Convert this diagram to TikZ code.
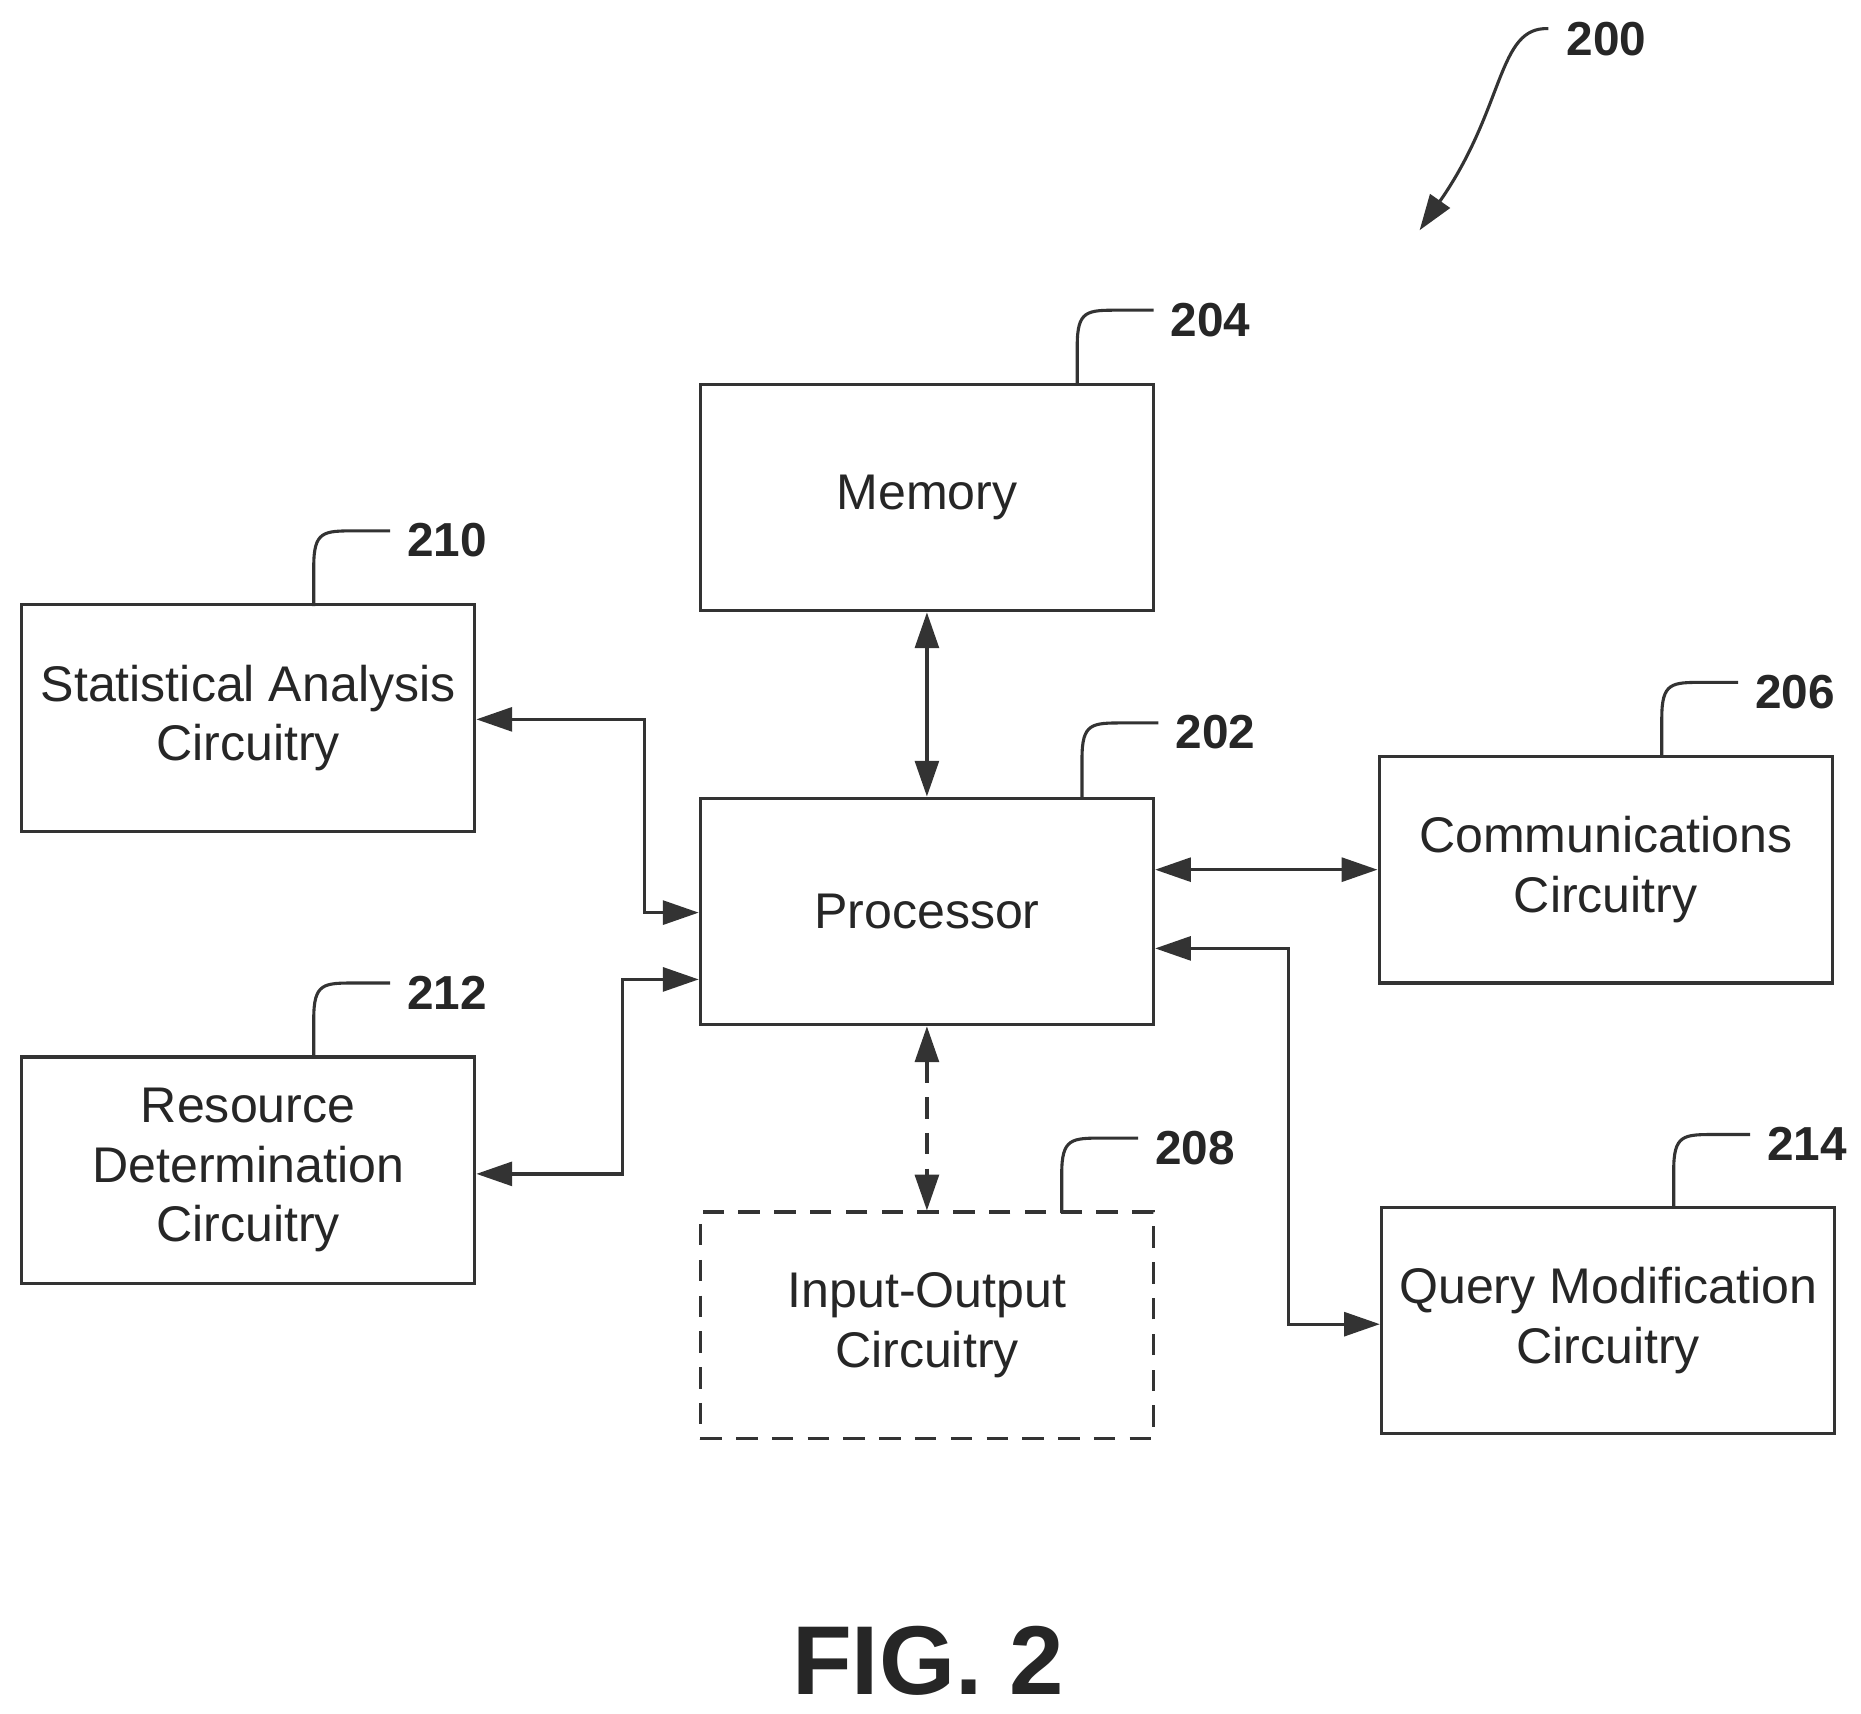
\documentclass[tikz,border=0pt]{standalone}
\usepackage{fontspec}
\setmainfont{Liberation Sans}
\usetikzlibrary{arrows.meta}
\begin{document}
\begin{tikzpicture}[x=0.5pt,y=-0.5pt,
 box/.style={draw=black!80,line width=1.3pt,minimum width=190pt,minimum height=95pt,align=center,font=\fontsize{21}{25}\selectfont,text=black!85},
 con/.style={draw=black!80,line width=1.4pt},
 tip/.style={-{Triangle[length=15pt,width=10pt]}},
 dtip/.style={{Triangle[length=15pt,width=10pt]}-{Triangle[length=15pt,width=10pt]}},
 lead/.style={draw=black!80,line width=1.3pt},
 lab/.style={font=\fontsize{20}{22}\selectfont\bfseries,text=black!85,anchor=west,inner sep=0pt}]
\useasboundingbox (0,0) rectangle (1560,1436);
\node[box] (mem) at (777,417) {Memory};
\node[box] (proc) at (777,764) {Processor};
\node[box] (stat) at (208,602) {Statistical Analysis\\Circuitry};
\node[box] (res) at (208,981) {Resource\\Determination\\Circuitry};
\node[box] (comm) at (1346,729) {Communications\\Circuitry};
\node[box] (query) at (1348,1107) {Query Modification\\Circuitry};
\node[box,dash pattern=on 9pt off 6pt] (io) at (777,1111) {Input-Output\\Circuitry};
\draw[con,dtip] (mem.south) -- (proc.north);
\draw[con,dtip] (stat.east |- 0,603) -- (540,603) -- (540,765) -- (proc.west |- 0,765);
\draw[con,dtip] (res.east |- 0,984) -- (522,984) -- (522,821) -- (proc.west |- 0,821);
\draw[con,dtip] (proc.east |- 0,729) -- (comm.west |- 0,729);
\draw[con,dtip] (proc.east |- 0,795) -- (1080,795) -- (1080,1110) -- (query.west |- 0,1110);
\draw[con,dtip,dash pattern=on 9pt off 6pt] (proc.south) -- (io.north);
% leaders
\foreach \x/\yb/\yt/\t/\n in {903/322/260/204/a,263/508/445/210/b,907/669/606/202/c,1393/634/572/206/d,263/887/824/212/e,890/1017/954/208/f,1403/1013/951/214/g}{
 \draw[lead] (\x,\yb) -- (\x,\yt+30) .. controls (\x,\yt) and (\x+8,\yt) .. (\x+35,\yt) -- (\x+64,\yt);
 \node[lab] (l\n) at (\x+78,\yt+8) {\t};
}
\node[lab] (l200) at (1313,33) {200};
\coordinate (c200) at (1190,193);
\draw[lead,tip] (1298,24) .. controls (1255,22) and (1262,90) .. (c200);
\node[font=\fontsize{41}{45}\selectfont\bfseries,text=black!85] (fig) at (778,1392) {FIG. 2};
\end{tikzpicture}
\end{document}
